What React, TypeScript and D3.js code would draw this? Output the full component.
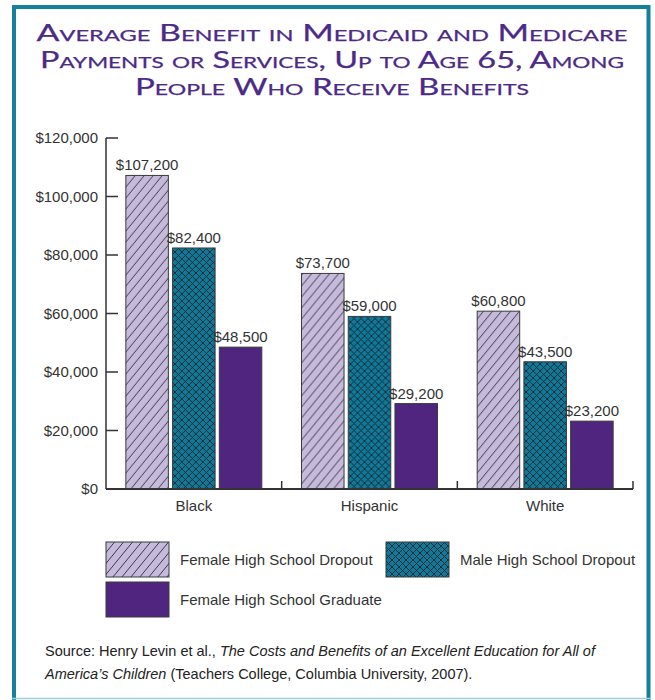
import React from 'react';
import * as d3 from 'd3';

const categories = ['Black', 'Hispanic', 'White'];
const seriesNames = ['Female High School Dropout', 'Male High School Dropout', 'Female High School Graduate'];
const femaleDropout = [107200, 73700, 60800];
const maleDropout = [82400, 59000, 43500];
const femaleGraduate = [48500, 29200, 23200];
const yTicks = [0, 20000, 40000, 60000, 80000, 100000, 120000];

const titleLines = [
  'Average Benefit in Medicaid and Medicare',
  'Payments or Services, Up to Age 65, Among',
  'People Who Receive Benefits',
];

const W = 655;
const H = 700;
const FONT = '"Liberation Sans", Arial, sans-serif';
const TEAL = '#15809c';
const LAVENDER = '#c5badb';
const PURPLE = '#4f2580';
const INK = '#333';

const App: React.FC = () => {
  const margin = { left: 106, right: 633, top: 138, bottom: 489 };

  const x0 = d3.scaleBand<string>()
    .domain(categories)
    .range([margin.left, margin.right])
    .paddingInner(0.226)
    .paddingOuter(0.113);

  const x1 = d3.scaleBand<string>()
    .domain(seriesNames)
    .range([0, x0.bandwidth()])
    .paddingInner(0.09);

  const y = d3.scaleLinear().domain([0, 120000]).range([margin.bottom, margin.top]);

  const fmt = (v: number) => '$' + d3.format(',')(v);

  const values = [femaleDropout, maleDropout, femaleGraduate];
  const fills = ['url(#hatch)', 'url(#cross)', PURPLE];

  const gap = (x0.step() - x0.bandwidth()) / 2;
  const separators = categories.map(c => (x0(c) ?? 0) + x0.bandwidth() + gap);

  return (
    <svg width={W} height={H} style={{ position: 'absolute', left: 0, top: 0, background: '#fff' }}>
      <defs>
        <pattern id="hatch" patternUnits="userSpaceOnUse" width={9} height={11}>
          <rect width={9} height={11} fill={LAVENDER} />
          <path d="M-2.25,2.75 L2.25,-2.75 M0,11 L9,0 M6.75,13.75 L11.25,8.25" stroke="#2e2a33" strokeWidth={0.9} />
        </pattern>
        <pattern id="cross" patternUnits="userSpaceOnUse" width={7} height={7}>
          <rect width={7} height={7} fill="#0d7a9b" />
          <path d="M0,0 L7,7 M0,7 L7,0" stroke="#1d2328" strokeWidth={0.9} />
        </pattern>
      </defs>

      {/* frame */}
      <path d={`M14,${H} L14,7 L648.5,7 L648.5,${H}`} fill="none" stroke={TEAL} strokeWidth={4} />
      <line x1={12} x2={651} y1={698.5} y2={698.5} stroke="#9fd0d9" strokeWidth={1.5} />

      {/* title */}
      {titleLines.map((t, i) => (
        <text
          key={t}
          x={332}
          y={41 + i * 27}
          textAnchor="middle"
          fill="#4b2a88"
          stroke="#4b2a88"
          strokeWidth={0.25}
          fontFamily='"Lato", "DejaVu Sans", sans-serif'
          fontSize={23}
          style={{ fontVariant: 'small-caps' }}
          textLength={[591, 584, 394][i]}
          lengthAdjust="spacingAndGlyphs"
        >
          {t}
        </text>
      ))}

      {/* y axis */}
      <line x1={margin.left} x2={margin.left} y1={y(120000)} y2={y(0)} stroke={INK} strokeWidth={1.5} />
      {yTicks.map(t => (
        <g key={t}>
          {t > 0 && (
            <line x1={margin.left} x2={margin.left + 12} y1={y(t)} y2={y(t)} stroke={INK} strokeWidth={1.5} />
          )}
          <text x={98} y={y(t)} dy="0.36em" textAnchor="end" fontFamily={FONT} fontSize={15} fill={INK}>
            {fmt(t)}
          </text>
        </g>
      ))}

      {/* bars */}
      {categories.map((c, ci) => (
        <g key={c} transform={`translate(${x0(c)},0)`}>
          {seriesNames.map((s, si) => {
            const v = values[si][ci];
            const bx = x1(s) ?? 0;
            return (
              <g key={s}>
                <rect
                  x={bx}
                  y={y(v)}
                  width={x1.bandwidth()}
                  height={y(0) - y(v)}
                  fill={fills[si]}
                  stroke="#3a3a3a"
                  strokeWidth={1}
                />
                <text
                  x={bx + x1.bandwidth() / 2}
                  y={y(v) - 5}
                  textAnchor="middle"
                  fontFamily={FONT}
                  fontSize={15}
                  fill={INK}
                >
                  {fmt(v)}
                </text>
              </g>
            );
          })}
          <text
            x={x0.bandwidth() / 2}
            y={511}
            textAnchor="middle"
            fontFamily={FONT}
            fontSize={15}
            fill={INK}
          >
            {c}
          </text>
        </g>
      ))}

      {/* x axis */}
      <line x1={margin.left} x2={margin.right} y1={y(0)} y2={y(0)} stroke={INK} strokeWidth={2} />
      {separators.map(sx => (
        <line key={sx} x1={sx} x2={sx} y1={y(0)} y2={y(0) - 8} stroke={INK} strokeWidth={1.5} />
      ))}

      {/* legend */}
      {[
        { x: 106, y: 542, tx: 180, fill: fills[0], label: seriesNames[0] },
        { x: 386, y: 542, tx: 460, fill: fills[1], label: seriesNames[1] },
        { x: 106, y: 582, tx: 180, fill: fills[2], label: seriesNames[2] },
      ].map(l => (
        <g key={l.label}>
          <rect x={l.x} y={l.y} width={63} height={35} fill={l.fill} stroke="#3a3a3a" strokeWidth={1} />
          <text x={l.tx} y={l.y + 23} fontFamily={FONT} fontSize={15} fill={INK}>
            {l.label}
          </text>
        </g>
      ))}

      {/* source */}
      <text x={45} y={656} fontFamily={FONT} fontSize={14.5} fill="#222">
        Source: Henry Levin et al., <tspan fontStyle="italic">The Costs and Benefits of an Excellent Education for All of</tspan>
      </text>
      <text x={45} y={679} fontFamily={FONT} fontSize={14.5} fill="#222">
        <tspan fontStyle="italic">America’s Children</tspan> (Teachers College, Columbia University, 2007).
      </text>
    </svg>
  );
};

export default App;
